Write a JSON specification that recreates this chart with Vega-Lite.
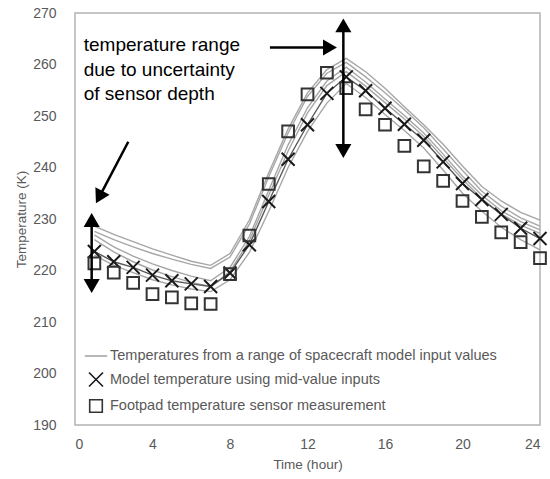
{
  "$schema": "https://vega.github.io/schema/vega-lite/v6.json",
  "width": 465,
  "height": 412,
  "autosize": {"type": "none"},
  "padding": {"left": 75, "top": 13, "right": 10, "bottom": 54},
  "background": "white",
  "config": {
    "font": "Liberation Sans",
    "view": {"stroke": "#b3b3b3", "strokeWidth": 1.5},
    "axis": {"grid": false, "domain": false, "ticks": false, "labelColor": "#595959", "titleColor": "#595959", "labelFont": "Liberation Sans", "titleFont": "Liberation Sans", "labelFontSize": 14, "titleFontSize": 13.5, "titleFontWeight": "normal"}
  },
  "datasets": {
    "gray": [
      {"h":1,"v":228.6,"run":"G1"},{"h":2,"v":227.0,"run":"G1"},{"h":3,"v":225.6,"run":"G1"},{"h":4,"v":224.2,"run":"G1"},{"h":5,"v":223.0,"run":"G1"},{"h":6,"v":221.8,"run":"G1"},{"h":7,"v":221.0,"run":"G1"},{"h":8,"v":223.3,"run":"G1"},{"h":9,"v":229.8,"run":"G1"},{"h":10,"v":239.0,"run":"G1"},{"h":11,"v":247.5,"run":"G1"},{"h":12,"v":254.5,"run":"G1"},{"h":13,"v":259.0,"run":"G1"},{"h":14,"v":261.2,"run":"G1"},{"h":15,"v":258.6,"run":"G1"},{"h":16,"v":255.4,"run":"G1"},{"h":17,"v":251.8,"run":"G1"},{"h":18,"v":248.3,"run":"G1"},{"h":19,"v":244.5,"run":"G1"},{"h":20,"v":240.3,"run":"G1"},{"h":21,"v":236.3,"run":"G1"},{"h":22,"v":233.5,"run":"G1"},{"h":23,"v":231.3,"run":"G1"},{"h":24,"v":229.8,"run":"G1"},
      {"h":1,"v":227.6,"run":"G2"},{"h":2,"v":226.0,"run":"G2"},{"h":3,"v":224.6,"run":"G2"},{"h":4,"v":223.3,"run":"G2"},{"h":5,"v":222.2,"run":"G2"},{"h":6,"v":221.2,"run":"G2"},{"h":7,"v":220.4,"run":"G2"},{"h":8,"v":222.6,"run":"G2"},{"h":9,"v":229.0,"run":"G2"},{"h":10,"v":238.2,"run":"G2"},{"h":11,"v":246.7,"run":"G2"},{"h":12,"v":253.8,"run":"G2"},{"h":13,"v":258.3,"run":"G2"},{"h":14,"v":260.4,"run":"G2"},{"h":15,"v":257.6,"run":"G2"},{"h":16,"v":254.5,"run":"G2"},{"h":17,"v":251.2,"run":"G2"},{"h":18,"v":247.7,"run":"G2"},{"h":19,"v":243.6,"run":"G2"},{"h":20,"v":239.4,"run":"G2"},{"h":21,"v":235.4,"run":"G2"},{"h":22,"v":232.5,"run":"G2"},{"h":23,"v":230.2,"run":"G2"},{"h":24,"v":228.6,"run":"G2"},
      {"h":1,"v":226.9,"run":"G3"},{"h":2,"v":224.6,"run":"G3"},{"h":3,"v":222.8,"run":"G3"},{"h":4,"v":221.3,"run":"G3"},{"h":5,"v":220.0,"run":"G3"},{"h":6,"v":218.9,"run":"G3"},{"h":7,"v":218.0,"run":"G3"},{"h":8,"v":220.6,"run":"G3"},{"h":9,"v":226.6,"run":"G3"},{"h":10,"v":235.6,"run":"G3"},{"h":11,"v":244.4,"run":"G3"},{"h":12,"v":251.6,"run":"G3"},{"h":13,"v":256.8,"run":"G3"},{"h":14,"v":259.5,"run":"G3"},{"h":15,"v":256.6,"run":"G3"},{"h":16,"v":253.3,"run":"G3"},{"h":17,"v":250.1,"run":"G3"},{"h":18,"v":246.7,"run":"G3"},{"h":19,"v":242.6,"run":"G3"},{"h":20,"v":238.3,"run":"G3"},{"h":21,"v":234.6,"run":"G3"},{"h":22,"v":231.6,"run":"G3"},{"h":23,"v":229.5,"run":"G3"},{"h":24,"v":227.9,"run":"G3"},
      {"h":1,"v":226.0,"run":"G4"},{"h":2,"v":223.6,"run":"G4"},{"h":3,"v":221.7,"run":"G4"},{"h":4,"v":220.1,"run":"G4"},{"h":5,"v":218.8,"run":"G4"},{"h":6,"v":217.7,"run":"G4"},{"h":7,"v":216.9,"run":"G4"},{"h":8,"v":219.8,"run":"G4"},{"h":9,"v":225.8,"run":"G4"},{"h":10,"v":234.6,"run":"G4"},{"h":11,"v":243.2,"run":"G4"},{"h":12,"v":250.6,"run":"G4"},{"h":13,"v":255.9,"run":"G4"},{"h":14,"v":258.6,"run":"G4"},{"h":15,"v":255.8,"run":"G4"},{"h":16,"v":252.6,"run":"G4"},{"h":17,"v":249.4,"run":"G4"},{"h":18,"v":246.0,"run":"G4"},{"h":19,"v":241.9,"run":"G4"},{"h":20,"v":237.7,"run":"G4"},{"h":21,"v":233.9,"run":"G4"},{"h":22,"v":231.0,"run":"G4"},{"h":23,"v":228.8,"run":"G4"},{"h":24,"v":227.2,"run":"G4"},
      {"h":1,"v":223.0,"run":"G5"},{"h":2,"v":221.0,"run":"G5"},{"h":3,"v":219.6,"run":"G5"},{"h":4,"v":218.2,"run":"G5"},{"h":5,"v":217.2,"run":"G5"},{"h":6,"v":216.4,"run":"G5"},{"h":7,"v":215.9,"run":"G5"},{"h":8,"v":218.2,"run":"G5"},{"h":9,"v":223.5,"run":"G5"},{"h":10,"v":231.5,"run":"G5"},{"h":11,"v":240.0,"run":"G5"},{"h":12,"v":247.0,"run":"G5"},{"h":13,"v":252.5,"run":"G5"},{"h":14,"v":256.3,"run":"G5"},{"h":15,"v":253.6,"run":"G5"},{"h":16,"v":250.3,"run":"G5"},{"h":17,"v":247.2,"run":"G5"},{"h":18,"v":243.8,"run":"G5"},{"h":19,"v":239.5,"run":"G5"},{"h":20,"v":235.0,"run":"G5"},{"h":21,"v":231.5,"run":"G5"},{"h":22,"v":228.4,"run":"G5"},{"h":23,"v":226.0,"run":"G5"},{"h":24,"v":224.0,"run":"G5"}
    ],
    "points": [
      {"h":1,"v":223.7,"series":"Model temperature using mid-value inputs"},{"h":2,"v":221.7,"series":"Model temperature using mid-value inputs"},{"h":3,"v":220.6,"series":"Model temperature using mid-value inputs"},{"h":4,"v":219.1,"series":"Model temperature using mid-value inputs"},{"h":5,"v":218.0,"series":"Model temperature using mid-value inputs"},{"h":6,"v":217.4,"series":"Model temperature using mid-value inputs"},{"h":7,"v":216.9,"series":"Model temperature using mid-value inputs"},{"h":8,"v":219.5,"series":"Model temperature using mid-value inputs"},{"h":9,"v":225.0,"series":"Model temperature using mid-value inputs"},{"h":10,"v":233.4,"series":"Model temperature using mid-value inputs"},{"h":11,"v":241.6,"series":"Model temperature using mid-value inputs"},{"h":12,"v":248.3,"series":"Model temperature using mid-value inputs"},{"h":13,"v":254.4,"series":"Model temperature using mid-value inputs"},{"h":14,"v":257.6,"series":"Model temperature using mid-value inputs"},{"h":15,"v":254.9,"series":"Model temperature using mid-value inputs"},{"h":16,"v":251.5,"series":"Model temperature using mid-value inputs"},{"h":17,"v":248.4,"series":"Model temperature using mid-value inputs"},{"h":18,"v":245.3,"series":"Model temperature using mid-value inputs"},{"h":19,"v":241.1,"series":"Model temperature using mid-value inputs"},{"h":20,"v":236.9,"series":"Model temperature using mid-value inputs"},{"h":21,"v":233.8,"series":"Model temperature using mid-value inputs"},{"h":22,"v":230.9,"series":"Model temperature using mid-value inputs"},{"h":23,"v":228.2,"series":"Model temperature using mid-value inputs"},{"h":24,"v":226.2,"series":"Model temperature using mid-value inputs"},
      {"h":1,"v":221.4,"series":"Footpad temperature sensor measurement"},{"h":2,"v":219.6,"series":"Footpad temperature sensor measurement"},{"h":3,"v":217.6,"series":"Footpad temperature sensor measurement"},{"h":4,"v":215.4,"series":"Footpad temperature sensor measurement"},{"h":5,"v":214.8,"series":"Footpad temperature sensor measurement"},{"h":6,"v":213.6,"series":"Footpad temperature sensor measurement"},{"h":7,"v":213.5,"series":"Footpad temperature sensor measurement"},{"h":8,"v":219.3,"series":"Footpad temperature sensor measurement"},{"h":9,"v":226.8,"series":"Footpad temperature sensor measurement"},{"h":10,"v":236.8,"series":"Footpad temperature sensor measurement"},{"h":11,"v":247.0,"series":"Footpad temperature sensor measurement"},{"h":12,"v":254.2,"series":"Footpad temperature sensor measurement"},{"h":13,"v":258.4,"series":"Footpad temperature sensor measurement"},{"h":14,"v":255.4,"series":"Footpad temperature sensor measurement"},{"h":15,"v":251.3,"series":"Footpad temperature sensor measurement"},{"h":16,"v":248.3,"series":"Footpad temperature sensor measurement"},{"h":17,"v":244.2,"series":"Footpad temperature sensor measurement"},{"h":18,"v":240.2,"series":"Footpad temperature sensor measurement"},{"h":19,"v":237.4,"series":"Footpad temperature sensor measurement"},{"h":20,"v":233.5,"series":"Footpad temperature sensor measurement"},{"h":21,"v":230.4,"series":"Footpad temperature sensor measurement"},{"h":22,"v":227.4,"series":"Footpad temperature sensor measurement"},{"h":23,"v":225.5,"series":"Footpad temperature sensor measurement"},{"h":24,"v":222.4,"series":"Footpad temperature sensor measurement"}
    ],
    "notes": [
      {"h":0.45,"v":262.7,"t":"temperature range"},
      {"h":0.45,"v":257.8,"t":"due to uncertainty"},
      {"h":0.45,"v":253.2,"t":"of sensor depth"}
    ],
    "shafts": [
      {"h1":10.06,"v1":263.3,"h2":13.1,"v2":263.3},
      {"h1":13.85,"v1":268.0,"h2":13.85,"v2":242.8},
      {"h1":0.86,"v1":230.3,"h2":0.86,"v2":216.5},
      {"h1":2.75,"v1":245.0,"h2":1.25,"v2":234.25}
    ],
    "heads": [
      {"h":13.16,"v":263.3,"ang":90},
      {"h":13.85,"v":267.6,"ang":0},
      {"h":13.85,"v":243.2,"ang":180},
      {"h":0.86,"v":229.8,"ang":0},
      {"h":0.86,"v":217.0,"ang":180},
      {"h":1.25,"v":234.25,"ang":208}
    ]
  },
  "layer": [
    {
      "data": {"name": "gray"},
      "mark": {"type": "line", "color": "#a6a6a6", "strokeWidth": 1.4},
      "encoding": {
        "x": {"field": "h", "type": "quantitative", "title": "Time (hour)", "scale": {"domain": [0, 24], "nice": false}, "axis": {"values": [0, 4, 8, 12, 16, 20, 24], "labelPadding": 12, "titlePadding": 6}},
        "y": {"field": "v", "type": "quantitative", "title": "Temperature (K)", "scale": {"domain": [190, 270], "nice": false, "zero": false}, "axis": {"values": [190, 200, 210, 220, 230, 240, 250, 260, 270], "labelPadding": 19, "titlePadding": 4}},
        "detail": {"field": "run"}
      }
    },
    {
      "data": {"name": "points"},
      "transform": [{"filter": "datum.series === 'Model temperature using mid-value inputs'"}],
      "mark": {"type": "line", "color": "#595959", "strokeWidth": 1.4},
      "encoding": {
        "x": {"field": "h", "type": "quantitative", "title": "Time (hour)"},
        "y": {"field": "v", "type": "quantitative", "title": "Temperature (K)"}
      }
    },
    {
      "data": {"name": "points"},
      "mark": {"type": "point", "filled": false, "size": 169, "strokeWidth": 2, "opacity": 1},
      "encoding": {
        "x": {"field": "h", "type": "quantitative", "title": "Time (hour)"},
        "y": {"field": "v", "type": "quantitative", "title": "Temperature (K)"},
        "shape": {
          "field": "series", "type": "nominal",
          "scale": {"domain": ["Temperatures from a range of spacecraft model input values", "Model temperature using mid-value inputs", "Footpad temperature sensor measurement"], "range": ["M-1.6,0H1.6", "M-1,-1L1,1M-1,1L1,-1", "M-0.9,-0.9H0.9V0.9H-0.9Z"]},
          "legend": {"title": null, "orient": "none", "legendX": 13, "legendY": 335, "symbolSize": 196, "symbolStrokeWidth": 1.6, "labelOffset": 6, "rowPadding": 5.5, "labelFontSize": 14.5, "labelColor": "#595959", "labelFont": "Liberation Sans", "labelLimit": 600}
        },
        "stroke": {
          "field": "series", "type": "nominal",
          "scale": {"domain": ["Temperatures from a range of spacecraft model input values", "Model temperature using mid-value inputs", "Footpad temperature sensor measurement"], "range": ["#a6a6a6", "#1a1a1a", "#333333"]},
          "legend": {"title": null, "orient": "none", "legendX": 13, "legendY": 335, "symbolSize": 196, "symbolStrokeWidth": 1.6, "labelOffset": 6, "rowPadding": 5.5, "labelFontSize": 14.5, "labelColor": "#595959", "labelFont": "Liberation Sans", "labelLimit": 600}
        }
      }
    },
    {
      "data": {"name": "notes"},
      "mark": {"type": "text", "align": "left", "baseline": "alphabetic", "fontSize": 19, "font": "Liberation Sans", "color": "black"},
      "encoding": {
        "x": {"field": "h", "type": "quantitative", "title": "Time (hour)"},
        "y": {"field": "v", "type": "quantitative", "title": "Temperature (K)"},
        "text": {"field": "t"}
      }
    },
    {
      "data": {"name": "shafts"},
      "mark": {"type": "rule", "color": "black", "strokeWidth": 2.5},
      "encoding": {
        "x": {"field": "h1", "type": "quantitative", "title": "Time (hour)"},
        "y": {"field": "v1", "type": "quantitative", "title": "Temperature (K)"},
        "x2": {"field": "h2"},
        "y2": {"field": "v2"}
      }
    },
    {
      "data": {"name": "heads"},
      "mark": {"type": "point", "shape": "triangle-up", "filled": true, "color": "black", "size": 260, "opacity": 1},
      "encoding": {
        "x": {"field": "h", "type": "quantitative", "title": "Time (hour)"},
        "y": {"field": "v", "type": "quantitative", "title": "Temperature (K)"},
        "angle": {"field": "ang", "type": "quantitative", "scale": null}
      }
    }
  ]
}
